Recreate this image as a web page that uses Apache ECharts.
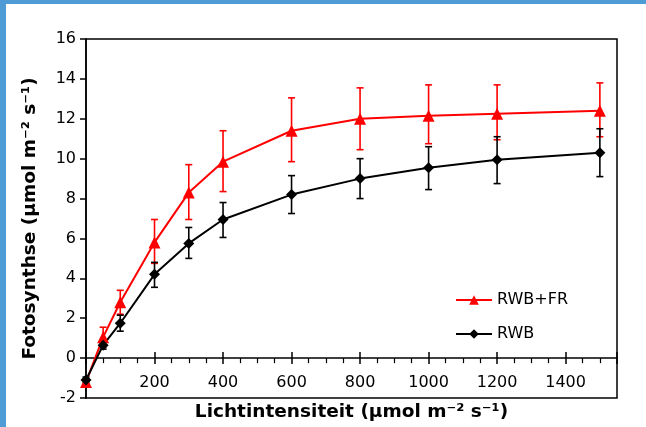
<!DOCTYPE html>
<html>
<head>
<meta charset="utf-8">
<script src="https://cdn.jsdelivr.net/npm/echarts@6/dist/echarts.min.js"></script>
<style>
  html, body { margin: 0; padding: 0; background: #fff; }
  #chart { width: 646px; height: 427px; }
</style>
</head>
<body>
<div id="chart"></div>
<script>
// data
var lichtIntensiteit = [0, 50, 100, 200, 300, 400, 600, 800, 1000, 1200, 1500];
var rwbFrMean = [-1.2, 1.05, 2.8, 5.8, 8.3, 9.85, 11.4, 12.0, 12.15, 12.25, 12.4];
var rwbFrLow  = [-1.35, 0.55, 2.2, 4.75, 6.95, 8.35, 9.85, 10.45, 10.75, 10.95, 11.1];
var rwbFrHigh = [-1.05, 1.55, 3.4, 6.95, 9.7, 11.4, 13.05, 13.55, 13.7, 13.7, 13.8];
var rwbMean = [-1.1, 0.65, 1.75, 4.2, 5.75, 6.95, 8.2, 9.0, 9.55, 9.95, 10.3];
var rwbLow  = [-1.25, 0.45, 1.35, 3.55, 5.0, 6.05, 7.25, 8.0, 8.45, 8.75, 9.1];
var rwbHigh = [-0.95, 0.85, 2.15, 4.8, 6.55, 7.8, 9.15, 10.0, 10.6, 11.1, 11.5];
var seriesNames = ['RWB+FR', 'RWB'];

var chartDom = document.getElementById('chart');
var myChart = echarts.init(chartDom);

var font = 'DejaVu Sans';

function pairs(ys) {
  return lichtIntensiteit.map(function (x, i) { return [x, ys[i]]; });
}

// error bars as custom series, positioned through the axes
function errorBars(color, low, high) {
  return {
    type: 'custom',
    xAxisIndex: 0,
    yAxisIndex: 0,
    silent: true,
    data: lichtIntensiteit.map(function (x, i) { return [x, low[i], high[i]]; }),
    encode: { x: 0, y: [1, 2] },
    renderItem: function (params, api) {
      var top = api.coord([api.value(0), api.value(2)]);
      var bot = api.coord([api.value(0), api.value(1)]);
      var w = 3.5;
      var st = { stroke: color, lineWidth: 1.6 };
      return {
        type: 'group',
        children: [
          { type: 'line', shape: { x1: top[0], y1: top[1], x2: bot[0], y2: bot[1] }, style: st },
          { type: 'line', shape: { x1: top[0] - w, y1: top[1], x2: top[0] + w, y2: top[1] }, style: st },
          { type: 'line', shape: { x1: bot[0] - w, y1: bot[1], x2: bot[0] + w, y2: bot[1] }, style: st }
        ]
      };
    }
  };
}

var gridBox = { left: 86, right: 29, top: 39, bottom: 29, containLabel: false, outerBoundsMode: 'none' };

var option = {
  animation: false,
  backgroundColor: '#fff',
  textStyle: { fontFamily: font },
  graphic: [
    { type: 'rect', shape: { x: 0, y: 0, width: 646, height: 4 }, style: { fill: '#4f9bd6' } },
    { type: 'rect', shape: { x: 0, y: 0, width: 6, height: 427 }, style: { fill: '#4f9bd6' } }
  ],
  legend: {
    data: seriesNames,
    orient: 'vertical',
    left: 450,
    top: 287,
    itemWidth: 36,
    itemHeight: 12,
    itemGap: 18,
    textStyle: { fontFamily: font, fontSize: 16, color: '#000', padding: [0, 0, 0, 0] }
  },
  grid: [
    Object.assign({ show: true, borderColor: '#000', borderWidth: 1.5, backgroundColor: 'transparent' }, gridBox),
    Object.assign({}, gridBox)
  ],
  xAxis: [
    {
      type: 'value',
      gridIndex: 0,
      min: 0,
      max: 1550,
      interval: 200,
      name: 'Lichtintensiteit (µmol m⁻² s⁻¹)',
      nameLocation: 'middle',
      nameGap: 5,
      nameMoveOverlap: false,
      nameTextStyle: { fontFamily: font, fontSize: 18.5, fontWeight: 'bold', color: '#000' },
      axisLine: { onZero: true, lineStyle: { color: '#000', width: 1.5 } },
      axisTick: { show: true, inside: false, length: 6, lineStyle: { color: '#000', width: 1.5 } },
      minorTick: { show: true, splitNumber: 4, length: 5, lineStyle: { color: '#000', width: 1.2 } },
      axisLabel: {
        showMinLabel: false,
        showMaxLabel: false,
        margin: -23,
        fontFamily: font,
        fontSize: 16,
        color: '#000',
        formatter: function (v) { return String(v); }
      },
      splitLine: { show: false }
    },
    {
      type: 'value',
      gridIndex: 1,
      min: 0,
      max: 1550,
      interval: 200,
      axisLine: { show: false, onZero: true },
      axisTick: { show: true, inside: true, length: 6, lineStyle: { color: '#000', width: 1.5 } },
      axisLabel: { show: false },
      splitLine: { show: false }
    }
  ],
  yAxis: [
    {
      type: 'value',
      gridIndex: 0,
      min: -2,
      max: 16,
      interval: 2,
      name: 'Fotosynthse (µmol m⁻² s⁻¹)',
      nameLocation: 'middle',
      nameGap: 46,
      nameTextStyle: { fontFamily: font, fontSize: 18.5, fontWeight: 'bold', color: '#000' },
      axisLine: { show: true, onZero: false, lineStyle: { color: '#000', width: 1.5 } },
      axisTick: { show: true, inside: false, length: 6, lineStyle: { color: '#000', width: 1.5 } },
      axisLabel: { margin: 10, fontFamily: font, fontSize: 16, color: '#000' },
      splitLine: { show: false }
    },
    {
      type: 'value',
      gridIndex: 1,
      min: -2,
      max: 16,
      interval: 2,
      show: false
    }
  ],
  series: [
    errorBars('#ff0000', rwbFrLow, rwbFrHigh),
    errorBars('#000000', rwbLow, rwbHigh),
    {
      name: seriesNames[0],
      type: 'line',
      data: pairs(rwbFrMean),
      symbol: 'triangle',
      symbolSize: 12,
      lineStyle: { color: '#ff0000', width: 2 },
      itemStyle: { color: '#ff0000' },
      z: 3
    },
    {
      name: seriesNames[1],
      type: 'line',
      data: pairs(rwbMean),
      symbol: 'diamond',
      symbolSize: 11,
      lineStyle: { color: '#000000', width: 2 },
      itemStyle: { color: '#000000' },
      z: 3
    }
  ]
};

myChart.setOption(option);

window.addEventListener('resize', function () {
  myChart.resize();
});
</script>
</body>
</html>
